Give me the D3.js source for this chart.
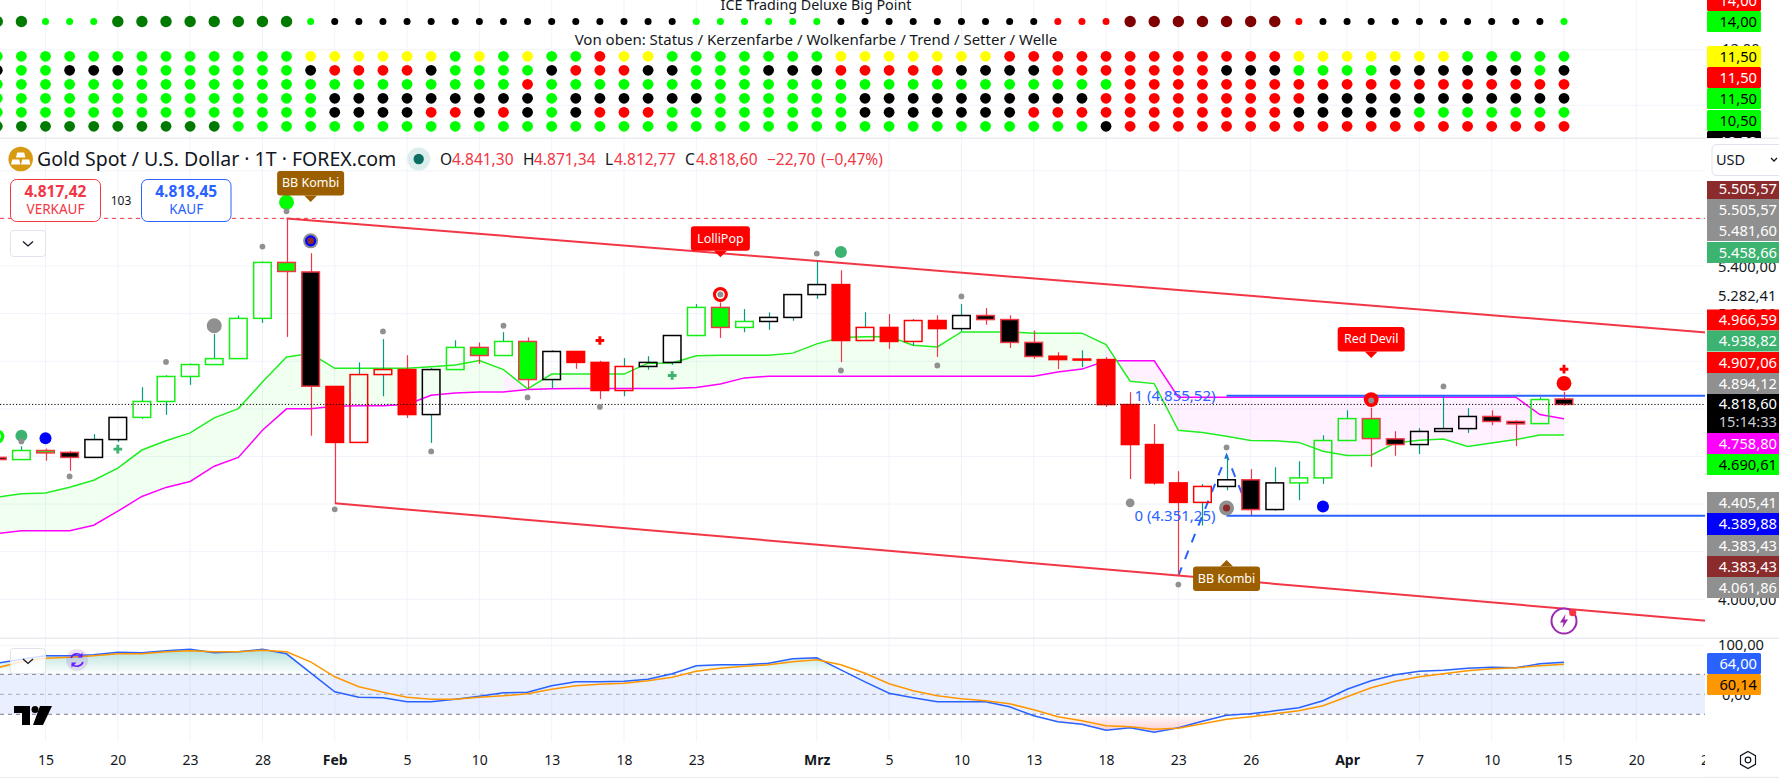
<!DOCTYPE html>
<html lang="de"><head><meta charset="utf-8"><title>Gold Spot / U.S. Dollar</title>
<script src="https://cdn.jsdelivr.net/npm/d3@7/dist/d3.min.js"></script>
<style>html,body{margin:0;padding:0;background:#fff;overflow:hidden}svg{display:block}text{font-family:"Noto Sans",sans-serif;fill:#131722}</style>
</head><body><svg id="c" width="1779" height="778"></svg><script>
// ---------- data ----------
const firstBar=-1;
const tickBars=[1,4,7,10,13,16,19,22,25,28,33,36,39,42,45,48,51,55,58,61,64,67,70];
const tickLabels=["15","20","23","28","Feb","5","10","13","18","23","Mrz","5","10","13","18","23","26","Apr","7","10","15","20","25"];
const boldTicks=["Feb","Mrz","Apr"];
const open_=[4596,4587,4625,4617,4596,4671,4764,4831,4936,4986,5011,5180,5415,5375,4894,4659,4944,4965,4776,4965,5058,5024,5083,4923,5041,4995,4877,4978,4995,5108,5226,5142,5167,5184,5280,5322,5087,5142,5083,5171,5137,5192,5175,5079,5021,5006,5007,4818,4650,4489,4407,4474,4502,4377,4489,4510,4667,4759,4674,4650,4705,4717,4768,4747,4738,4841.30];
const high_=[4598,4643,4633,4624,4694,4764,4891,4941,4990,5114,5192,5419,5600,5454,4894,4995,5093,5025,4971,5088,5079,5122,5100,5046,5041,5002,5013,5021,5108,5240,5247,5219,5205,5280,5419,5382,5206,5198,5177,5193,5240,5223,5193,5129,5038,5046,5017,4870,4736,4538,4484,4605,4547,4555,4580,4689,4794,4805,4706,4719,4856,4803,4794,4752,4849,4871.34];
const low_=[4585,4587,4582,4540,4596,4661,4758,4775,4901,4986,5011,5161,5102,4687,4402,4659,4853,4762,4657,4965,4989,5024,4885,4887,4968,4841,4853,4964,4985,5108,5098,5122,5132,5170,5262,4996,5087,5052,5065,5018,5125,5153,5056,5010,4967,4975,4808,4505,4481,4099,4310,4458,4353,4372,4416,4485,4667,4556,4603,4610,4705,4699,4731,4643,4738,4812.77];
const close_=[4587,4625,4615,4596,4671,4764,4831,4936,4986,5011,5180,5415,5377,4895,4659,4944,4965,4776,4965,5058,5024,5083,4923,5041,4995,4877,4978,4995,5108,5226,5142,5167,5184,5280,5322,5087,5142,5083,5171,5137,5192,5175,5079,5020,5007,5009,4818,4650,4489,4407,4474,4502,4377,4489,4510,4667,4759,4675,4650,4705,4717,4768,4747,4737,4839,4818.60];
const cloudGreen=[4429,4443,4447,4471,4500,4551,4627,4666,4699,4762,4801,4913,5018,5032,4970,4970,4970,4970,4977,4984,5003,4965,4884,4946,4946,4946,4946,4992,4993,5023,5025,5025,5025,5034,5073,5100,5103,5104,5067,5060,5123,5123,5123,5118,5118,5118,5070,4916,4906,4710,4701,4685,4667,4666,4659,4622,4604,4605,4657,4668,4673,4642,4657,4671,4690,4690.61];
const cloudMagenta=[4276,4288,4288,4288,4311,4370,4432,4470,4495,4559,4596,4710,4800,4800,4811,4813,4813,4818,4857,4867,4871,4871,4881,4884,4885,4885,4885,4885,4885,4890,4904,4930,4937,4937,4937,4937,4937,4937,4937,4937,4937,4937,4937,4937,4955,4967,5002,5002,5002,4849,4849,4849,4849,4849,4849,4849,4849,4849,4849,4849,4849,4849,4849,4849,4776,4758.80];
const oscBlue=[62,70,77,77,79,84,83,87,90,83,85,90,81,43,5,-6,-7,-15,-15,-10,-4,3,4,17,25,25,26,30,41,57,59,59,62,71,73,49,25,2,-7,-15,-15,-15,-25,-43,-55,-60,-72,-67,-76,-67,-54,-42,-39,-33,-27,-13,10,27,39,46,48,52,54,53,61,64];
const oscOrange=[53,65,72,74,77,81,81,85,87,85,85,88,85,65,35,15,4,-6,-10,-10,-6,-3,1,10,17,20,22,27,34,46,52,56,59,65,69,59,42,21,7,-3,-9,-13,-19,-31,-45,-53,-63,-65,-70,-68,-59,-50,-45,-39,-33,-23,-5,13,26,35,41,47,51,53,57,60.14];
const bigPoint="DDgggDDDDDDDDgkkkkkkkkkkkkkkkggggggkkkkkkkkkrrrRRRRRRRrkkkkkkkkkkg";
const rowNames=["Status","Kerzenfarbe","Wolkenfarbe","Trend","Setter","Welle"];
const rowStatus="GGGGGGGGGGGGGYYYYYYGYGYGGRYYGGGGGGGYYYYYYYRRRRRRRRRRRRYYYYYYYGGGGG";
const rowCandle="KGGKKKGGGGGGGKRRRRKGGGGKRRRKKGGGKKKRRRRRKKKKRRRRRRRKKKGGGGKKKKKKGK";
const rowCloud ="GGGGGGGGGGGGGGGGGGGGGGRGGGGGGGGGGGGGGGGGGGGGGGGRRRRRRRRRRRRRRRRRRR";
const rowTrend ="GGGGGGGGGGGGGGKKKKKKKKKGKKKKKKGGGGGGKKKKKKKKKKRRRRRRRRRKKKKKKKKKKK";
const rowSetter="GGGGGGGGGGGGGGKKKKRRKRKGKRRRGGGGGGGGKKKKKKKRRRRRRRRRRRKKKKKGGGGGGG";
const rowWave  ="DDDDDDDDDDGGGGGGGGGGGGGGGGGGGGGGGGGGGGGGGGGGGGKRRRRRRRRRRRRRRRRRRR";
const rows=[rowStatus,rowCandle,rowCloud,rowTrend,rowSetter,rowWave];
const upperTrendBars=[11,69.9], upperTrendPrices=[5600,5121];
const lowerTrendBars=[13,69.9], lowerTrendPrices=[4403,3910];
const fibBar=50, fibTop=4855.52, fibBottom=4351.25;
const fibLegBars=[48,50,51], fibLegPrices=[4099,4605,4353];
const currentPrice=4818.60, highLevel=5600;
const dotBars=[0,2,6,8,10,11,13,15,17,20,21,24,33,34,38,39,46,48,50,59];
const dotPrices=[4663,4516,4997,5149,5481.6,5630,4378,5125,4621,5149,4848,4808,5452,4961,4982,5272,4405.41,4061.86,4638,4894.12];
const dotBigBars=[8], dotMidBars=[46];
const plusBars=[4,27,24,64], plusPrices=[4631,4940,5087,4966.59], plusKinds=["buy","buy","sell","sell"];
const tagTexts=["BB Kombi","LolliPop","Red Devil","BB Kombi"];
const tagBars=[12,29,56,50], tagPrices=[5669,5437,5014,4165], tagKinds=["brownDown","redDown","redDown","brownUp"];
const yTicks=[5800,5600,5400,5200,5000,4800,4600,4400,4200,4000];
const yTickShown=[5400,5200,4000];
const oscLevels=[40,0,-40];

// ---------- layout ----------
const W=1779,AX=1705;
const svg=d3.select("#c");
const x=d3.scaleLinear().domain([0,64]).range([21.4,1564]);
const y=d3.scaleLinear().domain([4000,5400]).range([599.3,266]);
const yo=d3.scaleLinear().domain([-40,40]).range([714.3,674.3]);
const rowY=d3.scalePoint().domain(rowNames).range([56.3,126.3]);
const bars=d3.range(open_.length).map(k=>({i:k+firstBar,o:open_[k],h:high_[k],l:low_[k],c:close_[k],col:rowCandle[k],g:cloudGreen[k],m:cloudMagenta[k],cl:rowCloud[k],ob:oscBlue[k],oo:oscOrange[k],top:bigPoint[k]}));
const colors={G:"#00ff00",K:"#000000",R:"#ff0000",Y:"#ffff00",D:"#007a00",g:"#00ff00",k:"#000000",r:"#ff0000"};
const RED="#f23645",BLUE="#2962ff",TEAL="#089981",GRAY="#909090",SEA="#3cb371",GRID="#f0f3fa",SEP="#e9ebf0";

// ---------- grid ----------
const grid=svg.append("g");
grid.selectAll("line.v").data(tickBars).join("line").attr("x1",d=>x(d)).attr("x2",d=>x(d)).attr("y1",0).attr("y2",741.5).attr("stroke",GRID);
grid.selectAll("line.h").data(yTicks).join("line").attr("x1",0).attr("x2",AX).attr("y1",d=>y(d)).attr("y2",d=>y(d)).attr("stroke",GRID);
[49.7,105.3,645.3].forEach(v=>grid.append("line").attr("x1",0).attr("x2",AX).attr("y1",v).attr("y2",v).attr("stroke",GRID));
[138.3,638.3].forEach(v=>grid.append("line").attr("x1",0).attr("x2",W).attr("y1",v).attr("y2",v).attr("stroke",SEP).attr("stroke-width",1.5));
grid.append("line").attr("x1",0).attr("x2",W).attr("y1",777.5).attr("y2",777.5).attr("stroke",SEP);

// ---------- top dot panes ----------
const dots=svg.append("g");
dots.selectAll("circle.top").data(bars).join("circle").attr("cx",d=>x(d.i)).attr("cy",21.5)
  .attr("r",d=>"DR".includes(d.top)?5.7:3.5)
  .attr("fill",d=>d.top==="R"?"#7f0000":colors[d.top]);
rows.forEach((row,ri)=>{
  dots.append("g").selectAll("circle").data(bars).join("circle")
   .attr("cx",d=>x(d.i)).attr("cy",rowY(rowNames[ri])).attr("r",5.4)
   .attr("fill",(d,k)=>colors[row[k]]);
});
svg.append("text").attr("x",816).attr("y",10).attr("text-anchor","middle").attr("font-size",14.3).text("ICE Trading Deluxe Big Point");
svg.append("text").attr("x",816).attr("y",45).attr("text-anchor","middle").attr("font-size",15).text("Von oben: Status / Kerzenfarbe / Wolkenfarbe / Trend / Setter / Welle");

// ---------- cloud ----------
const cloud=svg.append("g");
const seg=d3.area().x(d=>x(d.i)).y0(d=>y(d.m)).y1(d=>y(d.g));
bars.slice(1).forEach((b,k)=>{
  cloud.append("path").attr("d",seg([bars[k],b])).attr("fill",b.cl==="R"?"#ff00ff":"#00ff00").attr("fill-opacity",.055);
});
const lineOf=key=>d3.line().x(d=>x(d.i)).y(d=>y(d[key]));
cloud.append("path").attr("d",lineOf("m")(bars)).attr("fill","none").attr("stroke","#ff00ff").attr("stroke-width",1.5);
cloud.append("path").attr("d",lineOf("g")(bars)).attr("fill","none").attr("stroke","#1fee1f").attr("stroke-width",1.5);

// ---------- levels and drawings under candles ----------
const draw=svg.append("g");
draw.append("line").attr("x1",0).attr("x2",AX).attr("y1",y(highLevel)).attr("y2",y(highLevel)).attr("stroke",RED).attr("stroke-dasharray","4 4");
const fibLeg=d3.line().x((d,k)=>x(fibLegBars[k])).y(d=>y(d));
draw.append("path").attr("d",fibLeg(fibLegPrices)).attr("fill","none").attr("stroke",BLUE).attr("stroke-width",2).attr("stroke-dasharray","9 9");

// ---------- candles ----------
const cg=svg.append("g");
const BW=17.6;
const candle=cg.selectAll("g").data(bars).join("g");
candle.each(function(d){
  const g=d3.select(this),up=d.c>=d.o,top=Math.max(d.o,d.c),bot=Math.min(d.o,d.c),cx=Math.round(x(d.i))+.5;
  const wick=up?TEAL:RED;
  if(d.h>top) g.append("line").attr("x1",cx).attr("x2",cx).attr("y1",y(d.h)).attr("y2",y(top)).attr("stroke",wick).attr("stroke-width",1.2);
  if(d.l<bot) g.append("line").attr("x1",cx).attr("x2",cx).attr("y1",y(bot)).attr("y2",y(d.l)).attr("stroke",wick).attr("stroke-width",1.2);
  g.append("rect").attr("x",x(d.i)-BW/2).attr("width",BW).attr("y",y(top)).attr("height",Math.max(y(bot)-y(top),1))
   .attr("fill",up?"none":colors[d.col]).attr("stroke",up?colors[d.col]==="#00ff00"?"#14ee14":colors[d.col]:(d.col==="R"?"#ff0000":RED)).attr("stroke-width",1.5);
});

// ---------- lines on top ----------
const over=svg.append("g");
const tl=(b,p)=>over.append("line").attr("x1",x(b[0])).attr("x2",x(b[1])).attr("y1",y(p[0])).attr("y2",y(p[1])).attr("stroke",RED).attr("stroke-width",2);
tl(upperTrendBars,upperTrendPrices);tl(lowerTrendBars,lowerTrendPrices);
[fibTop,fibBottom].forEach(v=>over.append("line").attr("x1",x(fibBar)).attr("x2",AX).attr("y1",y(v)).attr("y2",y(v)).attr("stroke",BLUE).attr("stroke-width",2));
over.append("line").attr("x1",0).attr("x2",AX).attr("y1",y(currentPrice)).attr("y2",y(currentPrice)).attr("stroke","#000").attr("stroke-dasharray","1.2 2");
over.append("text").attr("x",x(fibBar)-11).attr("y",y(fibTop)+5).attr("text-anchor","end").attr("font-size",15).style("fill",BLUE).text("1 (4.855,52)");
over.append("text").attr("x",x(fibBar)-11).attr("y",y(fibBottom)+5).attr("text-anchor","end").attr("font-size",15).style("fill",BLUE).text("0 (4.351,25)");

// ---------- markers ----------
const mk=svg.append("g");
const dot=(i,p,r,c)=>mk.append("circle").attr("cx",x(i)).attr("cy",y(p)).attr("r",r).attr("fill",c);
dot(-1,4684,7,"#00ff00");dot(-1,4684,3.6,"#fff");
dot(0,4687,6,SEA);dot(1,4676,6,"#0000ff");
dot(11,5668,7.5,"#00ff00");
dot(12,5505.57,7.5,GRAY);dot(12,5505.57,5.6,"#0000ff");dot(12,5505.57,3.4,"#8b2b2b");
dot(29,5280,7.5,"#ff0000");dot(29,5280,4.4,"#fff");dot(29,5280,3,GRAY);
dot(34,5458.66,6,SEA);
dot(50,4383.43,7.5,GRAY);dot(50,4383.43,3.6,"#8b2b2b");
dot(54,4389.88,6,"#0000ff");
dot(56,4839,7.4,"#ff0000");dot(56,4835,3,GRAY);
dot(64,4907.06,7.4,"#ff0000");
dotBars.forEach((b,k)=>dot(b,dotPrices[k],dotBigBars.includes(b)?7.5:dotMidBars.includes(b)?4.4:2.9,GRAY));
const plus=d3.symbol().type(d3.symbolCross).size(42);
mk.selectAll("path.p").data(plusBars).join("path").attr("d",plus)
  .attr("transform",(d,k)=>`translate(${x(d)},${y(plusPrices[k])})`).attr("fill",(d,k)=>plusKinds[k]==="buy"?SEA:"#ff0000");

// tags
tagTexts.forEach((t,k)=>{
  const tx=x(tagBars[k]),ty=y(tagPrices[k]),dn=tagKinds[k].endsWith("Down"),fill=tagKinds[k].startsWith("brown")?"#9c5f00":"#ff0000";
  const w=t==="LolliPop"?59:67,h=24.5;
  const g=svg.append("g");
  const top=dn?ty-6.5-h:ty+6.5;
  g.append("rect").attr("x",tx-w/2).attr("y",top).attr("width",w).attr("height",h).attr("rx",3).attr("fill",fill);
  g.append("path").attr("d",dn?`M${tx-6.5} ${top+h}L${tx} ${ty}L${tx+6.5} ${top+h}Z`:`M${tx-6.5} ${top}L${tx} ${ty}L${tx+6.5} ${top}Z`).attr("fill",fill);
  g.append("text").attr("x",tx).attr("y",top+16.5).attr("text-anchor","middle").attr("font-size",12.5).style("fill","#fff").text(t);
});

// lightning icon
const zap=svg.append("g").attr("transform",`translate(${x(64)},621)`);
zap.append("circle").attr("r",12.5).attr("fill","#fff").attr("stroke","#9c27b0").attr("stroke-width",2);
zap.append("path").attr("d","M1.5 -7L-4 1.5H-.5L-1.5 7L4 -1.5H.5Z").attr("fill","#9c27b0");
zap.append("circle").attr("cx",8.7).attr("cy",-8.3).attr("r",3.6).attr("fill",RED);

// ---------- oscillator ----------
const osc=svg.append("g");
const defs=svg.append("defs");
const grad=(id,y1,y2,c)=>{const g=defs.append("linearGradient").attr("id",id).attr("gradientUnits","userSpaceOnUse").attr("x1",0).attr("x2",0).attr("y1",y1).attr("y2",y2);
 g.append("stop").attr("offset",0).attr("stop-color",c).attr("stop-opacity",.3);g.append("stop").attr("offset",1).attr("stop-color",c).attr("stop-opacity",0);};
grad("ob",yo(90),yo(40),"#089981");grad("os",yo(-80),yo(-40),"#f23645");
osc.append("rect").attr("x",0).attr("width",AX).attr("y",yo(40)).attr("height",yo(-40)-yo(40)).attr("fill",BLUE).attr("fill-opacity",.1);
osc.append("path").attr("d",d3.area().x(d=>x(d.i)).y0(yo(40)).y1(d=>yo(Math.max(d.ob,40)))(bars)).attr("fill","url(#ob)");
osc.append("path").attr("d",d3.area().x(d=>x(d.i)).y0(yo(-40)).y1(d=>yo(Math.min(d.ob,-40)))(bars)).attr("fill","url(#os)");
osc.selectAll("line").data(oscLevels).join("line").attr("x1",0).attr("x2",AX).attr("y1",d=>yo(d)).attr("y2",d=>yo(d)).attr("stroke","#787b86").attr("stroke-dasharray","4 4").attr("stroke-opacity",(d)=>d===0?.6:1);
const ol=k=>d3.line().x(d=>x(d.i)).y(d=>yo(d[k]));
osc.append("path").attr("d",ol("ob")(bars)).attr("fill","none").attr("stroke",BLUE).attr("stroke-width",1.5);
osc.append("path").attr("d",ol("oo")(bars)).attr("fill","none").attr("stroke","#ff9800").attr("stroke-width",1.5);

// ---------- time axis ----------
const xAxis=d3.axisBottom(x).tickValues(tickBars).tickFormat((d,k)=>tickLabels[k]).tickSize(0).tickPadding(0);
const xg=svg.append("g").attr("transform","translate(0,749)").call(xAxis);
xg.select(".domain").remove();
xg.selectAll("text").attr("dy",0).attr("y",16).attr("font-size",14).attr("font-weight",(d,k)=>boldTicks.includes(tickLabels[k])?700:400).style("font-family",'"Noto Sans",sans-serif').style("fill","#131722");

// ---------- right axis ----------
const ax=svg.append("g");
ax.append("rect").attr("x",AX).attr("y",0).attr("width",W-AX).attr("height",778).attr("fill","#fff");
[138.3,638.3,777.5].forEach(v=>ax.append("line").attr("x1",AX).attr("x2",W).attr("y1",v).attr("y2",v).attr("stroke",SEP).attr("stroke-width",1.5));
const yAxis=d3.axisRight(y).tickValues(yTickShown).tickFormat(d=>d3.format(".3f")(d/1000)+",00").tickSize(0).tickPadding(0);
const yg=ax.append("g").attr("transform","translate(1718,0)").call(yAxis);
yg.select(".domain").remove();
yg.selectAll("text").attr("dy",5).attr("x",0).attr("font-size",14.7).style("font-family",'"Noto Sans",sans-serif').style("fill","#131722");
const plainAxis=[["5.282,41",296],["12,00",49],["100,00",645],["0,00",695]];
plainAxis.forEach(([t,v])=>ax.append("text").attr("x",t.length<6?1722:1718).attr("y",v+5).attr("font-size",14.7).text(t));

// stacked value tags on the axis
const axisTexts=["14,00","14,00","11,50","11,50","11,50","10,50","10,50",
 "5.505,57","5.505,57","5.481,60","5.458,66","4.966,59","4.938,82","4.907,06","4.894,12","4.818,60","4.758,80","4.690,61","4.405,41","4.389,88","4.383,43","4.383,43","4.061,86","64,00","60,14"];
const axisBoxes=[[-10,21,1,"#ff0000","#fff"],[11,21,1,"#00ff00","#000"],[46,21,1,"#ffff00","#000"],[67,21,1,"#ff0000","#fff"],[88,21,1,"#00ff00","#000"],[110,21,1,"#00ff00","#000"],[131,21,1,"#000","#fff"],
 [178,21,0,"#8b2b2b","#fff"],[199,21,0,GRAY,"#fff"],[220,21,0,GRAY,"#fff"],[242,21,0,SEA,"#fff"],[309.5,21,0,"#ff0000","#fff"],[330.5,21,0,SEA,"#fff"],[352,21,0,"#ff0000","#fff"],[373,21,0,GRAY,"#fff"],[394,39,0,"#000","#fff"],[433,21,0,"#ff00ff","#fff"],[454,21,0,"#00ff00","#000"],[492,21,0,GRAY,"#fff"],[513,22,0,"#0000ff","#fff"],[535,21,0,GRAY,"#fff"],[556,21,0,"#8b2b2b","#fff"],[577,21,0,GRAY,"#fff"],[653,21,1,BLUE,"#fff"],[674,21,1,"#ff9800","#000"]];
const clipTop=svg.append("defs");
clipTop.append("clipPath").attr("id","pane1").append("rect").attr("x",AX).attr("y",0).attr("width",W-AX).attr("height",138);
clipTop.append("clipPath").attr("id","pane2").append("rect").attr("x",AX).attr("y",181).attr("width",W-AX).attr("height",457);
axisTexts.forEach((t,k)=>{
  const [top,h,short,bg,fg]=axisBoxes[k];
  const g=ax.append("g").attr("clip-path",k<7?"url(#pane1)":k<23?"url(#pane2)":null);
  g.append("rect").attr("x",1707).attr("y",top).attr("width",short?54:72).attr("height",h).attr("rx",short?1.5:0).attr("fill",bg);
  g.append("text").attr("x",short?1757:1777).attr("y",top+(k==15?15:15.5)).attr("text-anchor","end").attr("font-size",14.7).style("fill",fg).text(t);
});
ax.append("text").attr("x",1777).attr("y",427).attr("text-anchor","end").attr("font-size",14.7).style("fill","#c9ccd3").text("15:14:33");

// ---------- legend and controls ----------
const ui=svg.append("g");
const logo=ui.append("g").attr("transform","translate(20.7,159)");
logo.append("circle").attr("r",12.3).attr("fill","#d79a10");
logo.append("path").attr("d","M-3.5 -6.5h7l1.2 5h-9.4zM-8.5 .5h7l1.2 5h-9.4zM1.5 .5h7l1.2 5h-9.4z").attr("fill","#fff");
ui.append("text").attr("x",37).attr("y",166).attr("font-size",19.5).text("Gold Spot / U.S. Dollar · 1T · FOREX.com");
ui.append("circle").attr("cx",418.7).attr("cy",159).attr("r",11.5).attr("fill","#dceeec");
ui.append("circle").attr("cx",418.7).attr("cy",159).attr("r",5.2).attr("fill","#0a6e62");
const ohlc=[["O",440,"#131722"],["4.841,30",452,RED],["H",523,"#131722"],["4.871,34",534,RED],["L",605,"#131722"],["4.812,77",614,RED],["C",685,"#131722"],["4.818,60",696,RED],["−22,70",767,RED],["(−0,47%)",821,RED]];
ohlc.forEach(([t,px,c])=>ui.append("text").attr("x",px).attr("y",165).attr("font-size",15.5).style("fill",c).text(t));
const btn=(x0,w,price,label,c)=>{
  ui.append("rect").attr("x",x0).attr("y",179.5).attr("width",w).attr("height",42).attr("rx",6).attr("fill","#fff").attr("stroke",c).attr("stroke-width",1);
  ui.append("text").attr("x",x0+w/2).attr("y",197).attr("text-anchor","middle").attr("font-size",15.5).attr("font-weight",700).style("fill",c).text(price);
  ui.append("text").attr("x",x0+w/2).attr("y",214).attr("text-anchor","middle").attr("font-size",13.5).style("fill",c).text(label);
};
btn(10.5,90,"4.817,42","VERKAUF",RED);btn(141.5,89.5,"4.818,45","KAUF",BLUE);
ui.append("text").attr("x",121).attr("y",205).attr("text-anchor","middle").attr("font-size",12).text("103");
const chev=(x0,y0,w,h,o)=>{
  ui.append("rect").attr("x",x0).attr("y",y0).attr("width",w).attr("height",h).attr("rx",3).attr("fill","#fff").attr("fill-opacity",o).attr("stroke","#e0e3eb");
  const cx=x0+w/2,cy=y0+h/2;
  ui.append("path").attr("d",`M${cx-5} ${cy-2}L${cx} ${cy+2.5}L${cx+5} ${cy-2}`).attr("fill","none").attr("stroke","#131722").attr("stroke-width",1.3);
};
chev(10.5,230.5,35,26,1);chev(10.5,648.5,35,25,.8);
const sync=ui.append("g").attr("transform","translate(77,660)");
sync.append("circle").attr("r",11).attr("fill","#7e57c2").attr("fill-opacity",.18);
sync.append("path").attr("d","M-6 -2A6.5 6.5 0 0 1 5 -4M6 2A6.5 6.5 0 0 1 -5 4").attr("fill","none").attr("stroke","#6a1fff").attr("stroke-width",1.7);
sync.append("path").attr("d","M5.5 -7.5V-2.5H.5zM-5.5 7.5V2.5H-.5z").attr("fill","#6a1fff");
const tv=ui.append("g");
tv.append("path").attr("d","M14 706H30V725H22V713H14ZM40 706H52L43 725H33Z").attr("fill","#000");
tv.append("circle").attr("cx",35).attr("cy",709.5).attr("r",3.5).attr("fill","#000");
ui.append("rect").attr("x",1712).attr("y",144.5).attr("width",80).attr("height",31).attr("rx",5).attr("fill","#fff").attr("stroke","#e0e3eb");
ui.append("text").attr("x",1716).attr("y",165).attr("font-size",14.5).text("USD");
ui.append("path").attr("d","M1771 158L1774 161L1777 158").attr("fill","none").attr("stroke","#131722").attr("stroke-width",1.3);
ui.append("path").attr("d","M1748 751.5L1755.5 755.7V764.3L1748 768.5L1740.5 764.3V755.7Z").attr("fill","none").attr("stroke","#131722").attr("stroke-width",1.2);
ui.append("circle").attr("cx",1748).attr("cy",760).attr("r",2.8).attr("fill","none").attr("stroke","#131722").attr("stroke-width",1.2);
</script></body></html>
